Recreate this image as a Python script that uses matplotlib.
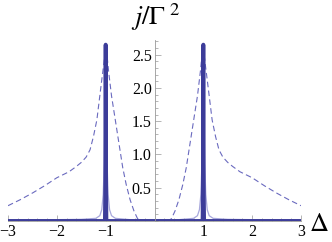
import numpy as np
import matplotlib
matplotlib.use('Agg')
import matplotlib.pyplot as plt
from matplotlib.ticker import MultipleLocator

# dashed curve
delta_dash = [-3.0, -2.75, -2.5, -2.25, -2.0, -1.75, -1.6, -1.5, -1.4, -1.32, -1.25, -1.18,
              -1.13, -1.08, -1.04, -1.0, -0.98, -0.94, -0.88, -0.82, -0.75, -0.65, -0.58,
              -0.5, -0.42, -0.35, -0.3, 0.0,
              0.3, 0.35, 0.42, 0.5, 0.58, 0.65, 0.75, 0.82, 0.88, 0.94, 0.98, 1.0,
              1.04, 1.08, 1.13, 1.18, 1.25, 1.32, 1.4, 1.5, 1.6, 1.75, 2.0, 2.25, 2.5,
              2.75, 3.0]
j_dash = [0.23, 0.32, 0.42, 0.53, 0.65, 0.74, 0.82, 0.88, 0.96, 1.07, 1.27, 1.52,
          1.82, 2.12, 2.35, 2.6, 2.55, 2.25, 1.88, 1.6, 1.27, 0.8, 0.55,
          0.32, 0.15, 0.04, 0.0, 0.0,
          0.0, 0.04, 0.15, 0.32, 0.55, 0.8, 1.27, 1.6, 1.88, 2.25, 2.55, 2.6,
          2.35, 2.12, 1.82, 1.52, 1.27, 1.07, 0.96, 0.88, 0.82, 0.74, 0.65, 0.53, 0.42,
          0.32, 0.23]

# thin light curve
delta_thin = [-3.0, -2.0, -1.5, -1.2, -1.12, -1.08, -1.05, -1.03, -1.02, -1.01, -1.0,
              -0.99, -0.98, -0.97, -0.95, -0.92, -0.88, -0.8, -0.5, 0.0,
              0.5, 0.8, 0.88, 0.92, 0.95, 0.97, 0.98, 0.99, 1.0,
              1.01, 1.02, 1.03, 1.05, 1.08, 1.12, 1.2, 1.5, 2.0, 3.0]
j_thin = [0.02, 0.02, 0.025, 0.04, 0.08, 0.17, 0.4, 0.85, 1.35, 2.1, 2.65,
          2.1, 1.35, 0.85, 0.4, 0.17, 0.08, 0.04, 0.02, 0.015,
          0.02, 0.04, 0.08, 0.17, 0.4, 0.85, 1.35, 2.1, 2.65,
          2.1, 1.35, 0.85, 0.4, 0.17, 0.08, 0.04, 0.025, 0.02, 0.02]

# thick narrow curve
delta_thick = [-3.0, -1.015, -1.007, -1.0, -0.993, -0.985, 0.0,
               0.985, 0.993, 1.0, 1.007, 1.015, 3.0]
j_thick = [0.0, 0.0, 0.6, 2.65, 0.6, 0.0, 0.0,
           0.0, 0.6, 2.65, 0.6, 0.0, 0.0]

plt.rcParams['font.family'] = ['Liberation Serif', 'DejaVu Serif']
plt.rcParams['mathtext.fontset'] = 'stix'

fig = plt.figure(figsize=(3.32, 2.42), dpi=100)
ax = fig.add_axes([8/332, 21/242, 293/332, 181/242])

blue = '#3c3c99'
ax.plot(delta_dash, j_dash, color='#6a6abf', lw=0.8, dashes=(5, 3))
ax.plot(delta_thin, j_thin, color='#a8a8dc', lw=0.9)
ax.plot(delta_thick, j_thick, color=blue, lw=2.8)

ax.set_xlim(-3, 3)
ax.set_ylim(0, 2.72)

for s in ['top', 'right']:
    ax.spines[s].set_visible(False)
ax.spines['left'].set_position(('data', 0))
ax.spines['bottom'].set_position(('data', 0))
ax.spines['left'].set_color('#999999')
ax.spines['bottom'].set_color('#999999')
ax.spines['left'].set_linewidth(0.6)
ax.spines['bottom'].set_linewidth(0.6)

ax.set_xticks([-3, -2, -1, 1, 2, 3])
ax.set_xticklabels(['\u22123', '\u22122', '\u22121', '1', '2', '3'])
ax.set_yticks([0.5, 1.0, 1.5, 2.0, 2.5])
ax.set_yticklabels(['0.5', '1.0', '1.5', '2.0', '2.5'])
ax.xaxis.set_minor_locator(MultipleLocator(0.2))
ax.yaxis.set_minor_locator(MultipleLocator(0.1))
ax.tick_params(which='both', direction='in', color='#999999', width=0.5,
               labelsize=11.5, pad=2)
ax.tick_params(which='major', length=4)
ax.tick_params(which='minor', length=2)

fig.text(156/332, 1 - 17/242, r'$j/\Gamma^{\ 2}$', ha='center', va='center', fontsize=19)
fig.text(319/332, 1 - 225/242, r'$\Delta$', ha='center', va='center', fontsize=19)

fig.savefig('out.png', dpi=100)
